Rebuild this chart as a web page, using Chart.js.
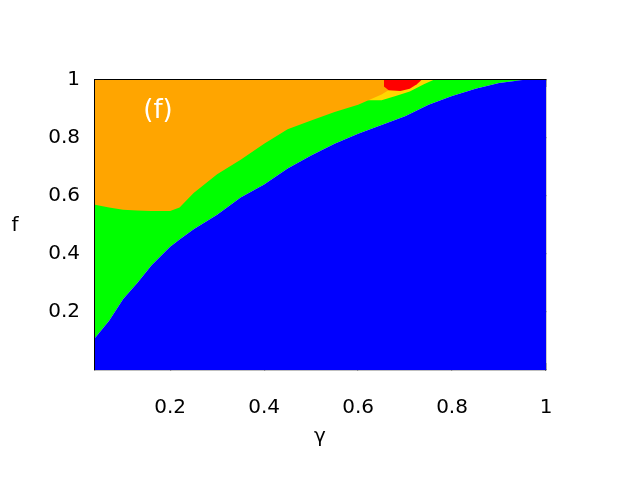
<!DOCTYPE html>
<html>
<head>
<meta charset="utf-8">
<script src="https://cdn.jsdelivr.net/npm/chart.js@4"></script>
<style>
  html, body { margin: 0; padding: 0; background: #fff; }
  #wrap { width: 640px; height: 480px; }
</style>
</head>
<body>
<div id="wrap"><canvas id="phaseChart" width="640" height="480"></canvas></div>
<script>
// gamma grid for the region boundaries
const gammaGrid = [0.04, 0.07, 0.10, 0.13, 0.16, 0.20, 0.22, 0.25, 0.30, 0.35, 0.40, 0.45,
                   0.50, 0.55, 0.60, 0.65, 0.70, 0.75, 0.80, 0.85, 0.90, 0.95, 1.00];
// green / blue boundary
const blueEdge   = [0.11, 0.17, 0.245, 0.30, 0.36, 0.425, 0.45, 0.485, 0.535, 0.595, 0.64, 0.695,
                    0.74, 0.78, 0.815, 0.845, 0.875, 0.915, 0.945, 0.97, 0.99, 1.0, 1.0];
// orange / green boundary
const orangeEdge = [0.57, 0.56, 0.553, 0.55, 0.548, 0.548, 0.56, 0.61, 0.675, 0.725, 0.78, 0.83,
                    0.86, 0.89, 0.915, 0.95, 1.0, 1.0, 1.0, 1.0, 1.0, 1.0, 1.0];
// small red patch near the top
const redGamma = [0.655, 0.665, 0.69, 0.71, 0.725, 0.735];
const redEdge  = [0.978, 0.965, 0.962, 0.97, 0.985, 1.0];
// thin yellow band
const yellowGamma = [0.62, 0.65, 0.68, 0.71, 0.74, 0.76];
const yellowEdge  = [0.93, 0.93, 0.945, 0.96, 0.985, 1.0];

const xTicks = [0.2, 0.4, 0.6, 0.8, 1];
const yTicks = [0.2, 0.4, 0.6, 0.8, 1];

const pts = (xs, ys) => xs.map((x, i) => ({ x: x, y: ys[i] }));

function region(label, xs, ys, color, fill) {
    return {
        label: label,
        data: pts(xs, ys),
        backgroundColor: color,
        borderWidth: 0,
        pointRadius: 0,
        tension: 0,
        fill: fill
    };
}

const tickFont = { family: "DejaVu Sans", size: 20 };

function axis(pos, ticksList, size, showLabels) {
    const horiz = pos === 'top' || pos === 'bottom';
    return {
        type: 'linear',
        position: pos,
        min: horiz ? 0.04 : 0,
        max: 1,
        afterBuildTicks: s => { s.ticks = ticksList.map(v => ({ value: v })); },
        afterFit: s => { if (horiz) s.height = size; else s.width = size; },
        border: { display: true, color: '#000', width: 1.2 },
        grid: { drawOnChartArea: false, drawTicks: true, tickLength: -7, color: '#000', lineWidth: 1.2 },
        ticks: {
            display: showLabels,
            color: '#000',
            font: tickFont,
            padding: horiz ? 33 : 22,
            maxRotation: 0,
            callback: v => String(v)
        }
    };
}

const textPlugin = {
    id: 'texts',
    afterDraw(chart) {
        const ctx = chart.ctx;
        ctx.save();
        ctx.textAlign = 'center';
        ctx.textBaseline = 'middle';
        ctx.fillStyle = '#000';
        ctx.font = '20px "DejaVu Sans"';
        ctx.fillText('f', 15, 226);
        ctx.fillText('γ', 320, 437);
        ctx.fillStyle = '#fff';
        ctx.font = '26px "DejaVu Sans"';
        ctx.fillText('(f)', 158, 111);
        ctx.restore();
    }
};

new Chart(document.getElementById('phaseChart'), {
    type: 'line',
    data: {
        datasets: [
            region('red', redGamma, redEdge, '#ff0000', 'end'),
            region('orange', gammaGrid, orangeEdge, '#ffa500', 'end'),
            region('yellow', yellowGamma, yellowEdge, '#ffd700', 'end'),
            region('blue', gammaGrid, blueEdge, '#0000ff', 'start'),
            region('green', gammaGrid, blueEdge, '#00ff00', 'end')
        ]
    },
    options: {
        responsive: false,
        animation: false,
        layout: { padding: 0 },
        plugins: { legend: { display: false }, tooltip: { enabled: false } },
        scales: {
            x: axis('bottom', xTicks, 110, true),
            x2: axis('top', xTicks, 80, false),
            y: axis('left', yTicks, 95, true),
            y2: axis('right', yTicks, 94, false)
        }
    },
    plugins: [textPlugin]
});
</script>
</body>
</html>
